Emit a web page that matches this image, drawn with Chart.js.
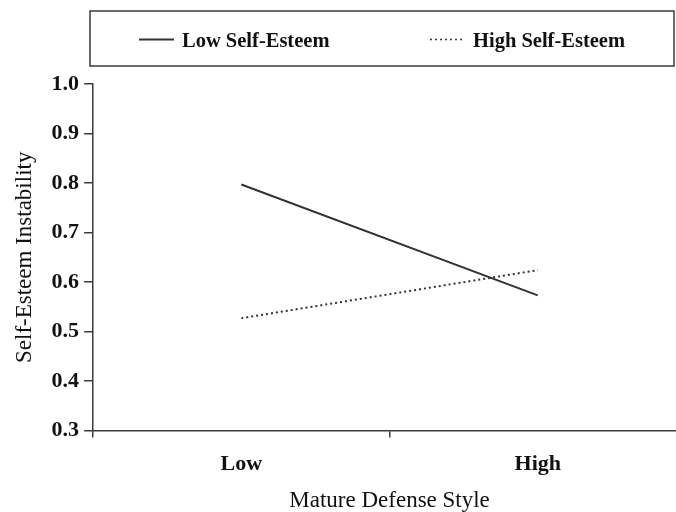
<!DOCTYPE html>
<html>
<head>
<meta charset="utf-8">
<script src="https://cdn.jsdelivr.net/npm/chart.js@4.4.1/dist/chart.umd.min.js"></script>
<style>
  html, body { margin: 0; padding: 0; background: #fff; overflow: hidden; }
  /* the original figure is cropped a few px past the right end of the x axis */
  #wrap { width: 676px; height: 512px; overflow: hidden; }
</style>
</head>
<body>
<div id="wrap"><canvas id="chart" width="686" height="512"></canvas></div>
<script>
/* =========================================================
   DATA
========================================================= */
const defenseLevels = ["Low", "High"];
const lowSelfEsteem = [0.797, 0.573];
const highSelfEsteem = [0.527, 0.624];
const yTicks = [0.3, 0.4, 0.5, 0.6, 0.7, 0.8, 0.9, 1.0];
const seriesNames = ["Low Self-Esteem", "High Self-Esteem"];

const SERIF = "'Liberation Serif', 'Times New Roman', serif";
const AXIS = "#3a3a3a";

/* =========================================================
   BOXED LEGEND (drawn above the plot like the original)
========================================================= */
const boxedLegend = {
  id: "boxedLegend",
  afterDraw(chart) {
    const ctx = chart.ctx;
    ctx.save();
    ctx.strokeStyle = AXIS;
    ctx.lineWidth = 1.5;
    ctx.strokeRect(90, 11, 584, 55);

    const starts = [139, 430];
    chart.data.datasets.forEach((ds, i) => {
      const x = starts[i];
      ctx.beginPath();
      ctx.setLineDash(ds.borderDash || []);
      ctx.strokeStyle = ds.borderColor;
      ctx.lineWidth = ds.borderDash ? 1.6 : 1.8;
      ctx.moveTo(x, 39.5);
      ctx.lineTo(x + 35, 39.5);
      ctx.stroke();
      ctx.setLineDash([]);

      ctx.fillStyle = "#111";
      ctx.font = `bold 20.5px ${SERIF}`;
      ctx.textBaseline = "alphabetic";
      ctx.fillText(ds.label, x + 43, 47);
    });
    ctx.restore();
  }
};

/* =========================================================
   CHART
========================================================= */
new Chart(document.getElementById("chart"), {
  type: "line",
  data: {
    labels: defenseLevels,
    datasets: [
      {
        label: seriesNames[0],
        data: lowSelfEsteem,
        borderColor: "#333",
        borderWidth: 2,
        pointRadius: 0,
        tension: 0
      },
      {
        label: seriesNames[1],
        data: highSelfEsteem,
        borderColor: "#333",
        borderWidth: 2,
        borderDash: [2, 3],
        pointRadius: 0,
        tension: 0
      }
    ]
  },
  options: {
    responsive: false,
    animation: false,
    layout: { padding: { top: 84, right: 0, bottom: 0, left: 11 } },
    plugins: {
      legend: { display: false },
      tooltip: { enabled: false }
    },
    scales: {
      x: {
        type: "category",
        offset: true,
        grid: {
          offset: true,
          drawOnChartArea: false,
          tickLength: 7,
          color: AXIS,
          lineWidth: 1.5
        },
        border: { color: AXIS, width: 1.5 },
        ticks: {
          color: "#111",
          padding: 13.5,
          font: { family: SERIF, size: 22, weight: "bold" }
        },
        title: {
          display: true,
          text: "Mature Defense Style",
          color: "#111",
          padding: { top: -2, bottom: 0 },
          font: { family: SERIF, size: 23, lineHeight: 1 }
        }
      },
      y: {
        min: 0.3,
        max: 1.0,
        afterBuildTicks: axis => {
          axis.ticks = yTicks.map(v => ({ value: v }));
        },
        grid: {
          drawOnChartArea: false,
          tickLength: 9,
          color: AXIS,
          lineWidth: 1.5
        },
        border: { color: AXIS, width: 1.5 },
        ticks: {
          color: "#111",
          padding: 5,
          font: { family: SERIF, size: 22, weight: "bold" },
          callback: v => Number(v).toFixed(1)
        },
        title: {
          display: true,
          text: "Self-Esteem Instability",
          color: "#111",
          padding: { top: 0, bottom: 8 },
          font: { family: SERIF, size: 23 }
        }
      }
    }
  },
  plugins: [boxedLegend]
});
</script>
</body>
</html>
